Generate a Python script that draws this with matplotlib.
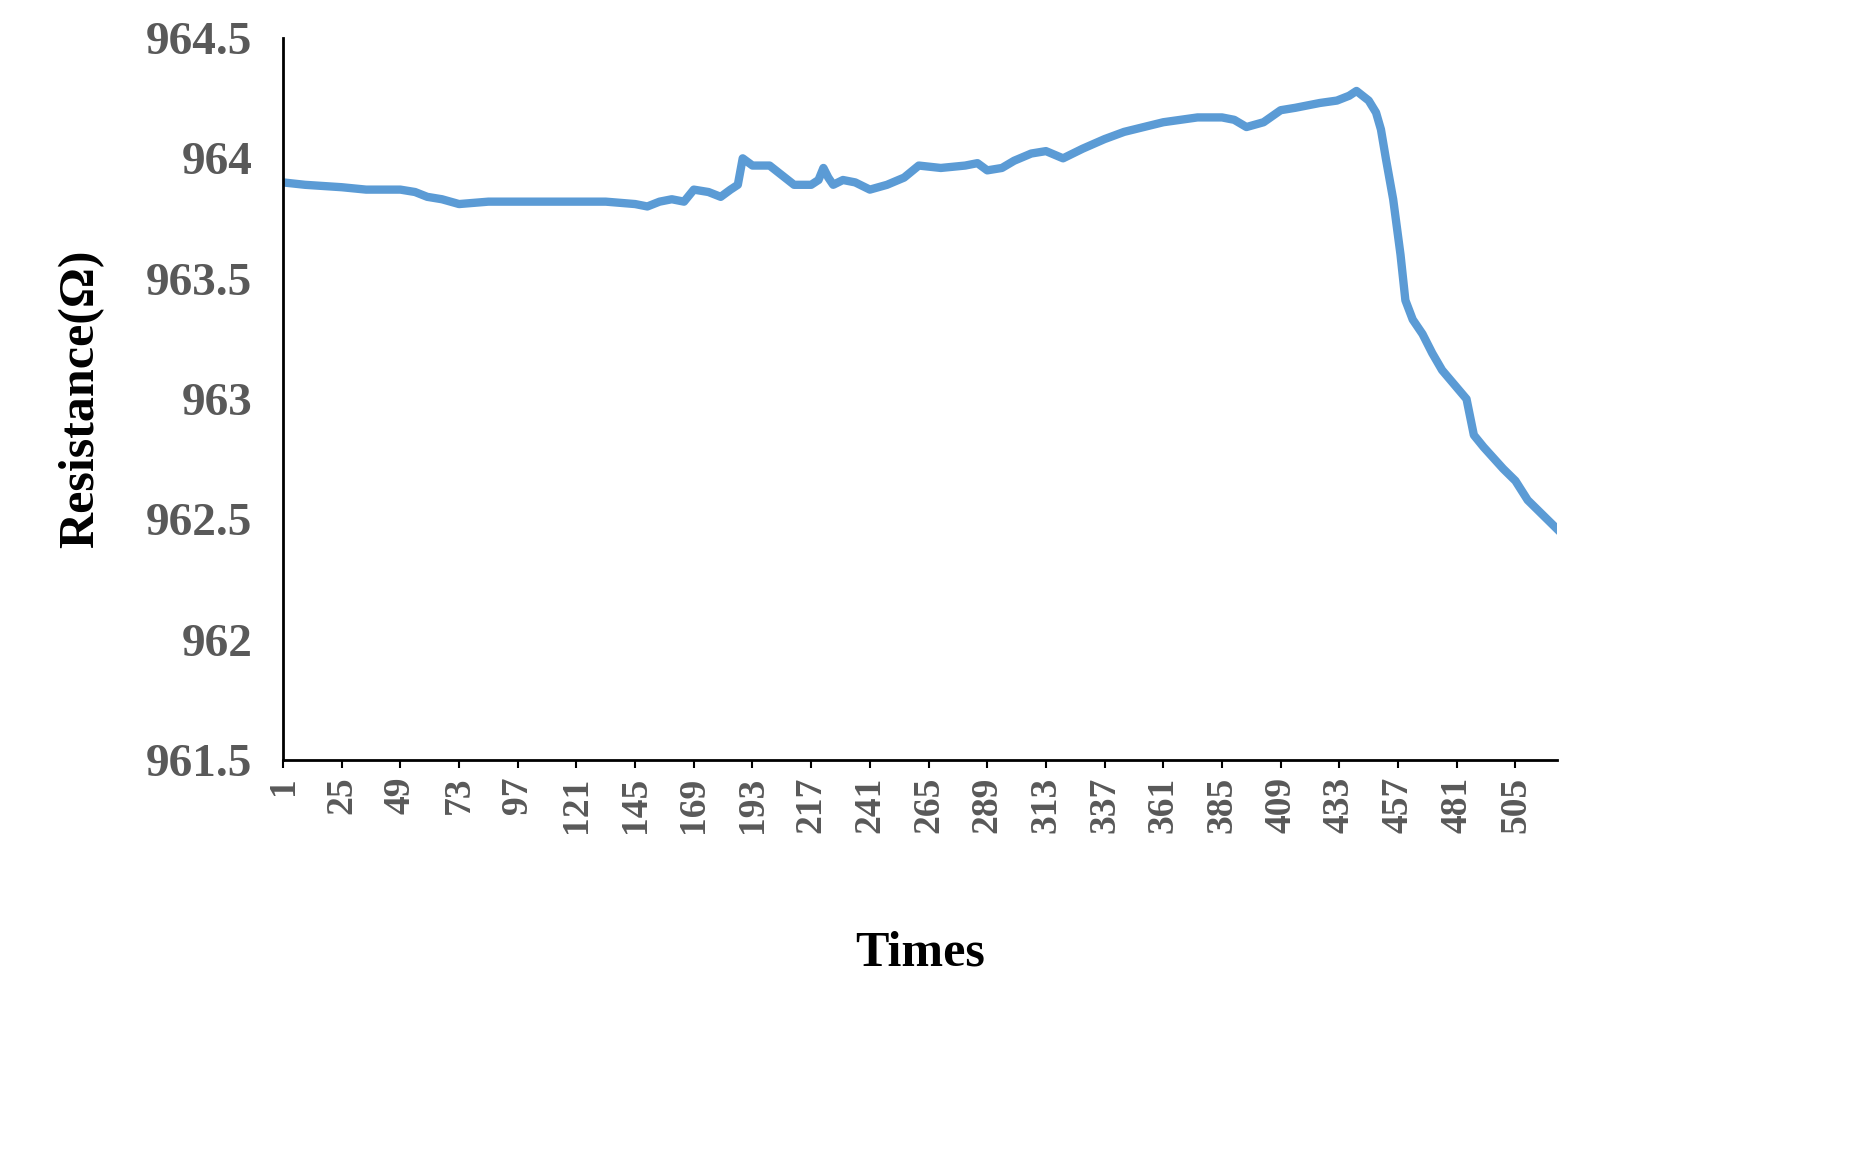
import matplotlib.pyplot as plt
import numpy as np

# values (sample index, resistance in ohm)
times = [1, 10, 25, 35, 49, 55, 60, 66, 73, 85, 97, 110, 121, 133, 145, 150, 155, 160,
         165, 169, 175, 180, 184, 187, 189, 193, 200, 205, 210, 217, 220, 222, 224, 226,
         230, 235, 241, 248, 255, 261, 270, 280, 285, 289, 295, 300, 307, 313, 320, 328,
         337, 345, 353, 361, 368, 375, 385, 390, 395, 402, 409, 415, 425, 432, 437, 440,
         445, 448, 450, 452, 455, 458, 460, 463, 467, 471, 475, 480, 485, 488, 492, 500,
         505, 510, 516, 522]
resist = [963.90, 963.89, 963.88, 963.87, 963.87, 963.86, 963.84, 963.83, 963.81, 963.82,
          963.82, 963.82, 963.82, 963.82, 963.81, 963.80, 963.82, 963.83, 963.82, 963.87,
          963.86, 963.84, 963.87, 963.89, 964.00, 963.97, 963.97, 963.93, 963.89, 963.89,
          963.91, 963.96, 963.92, 963.89, 963.91, 963.90, 963.87, 963.89, 963.92, 963.97,
          963.96, 963.97, 963.98, 963.95, 963.96, 963.99, 964.02, 964.03, 964.00, 964.04,
          964.08, 964.11, 964.13, 964.15, 964.16, 964.17, 964.17, 964.16, 964.13, 964.15,
          964.20, 964.21, 964.23, 964.24, 964.26, 964.28, 964.24, 964.19, 964.12, 964.00,
          963.83, 963.60, 963.41, 963.33, 963.27, 963.19, 963.12, 963.06, 963.00, 962.85,
          962.80, 962.71, 962.66, 962.58, 962.52, 962.46]
xticks = list(range(1, 506, 24))
yticks = [961.5, 962, 962.5, 963, 963.5, 964, 964.5]

plt.rcParams['font.family'] = ['Liberation Serif', 'DejaVu Serif']
fig = plt.figure(figsize=(18.62, 11.6), dpi=100)
ax = fig.add_axes([283 / 1862, 1 - 760 / 1160, (1557 - 283) / 1862, (760 - 38) / 1160])

ax.plot(times, resist, color='#5B9BD5', lw=6, solid_joinstyle='round')
ax.set_xlim(1, 522)
ax.set_ylim(961.5, 964.5)
ax.set_xticks(xticks)
ax.set_xticklabels([str(t) for t in xticks], rotation=90, fontsize=27,
                   fontweight='bold', color='#595959')
ax.set_yticks(yticks)
ax.set_yticklabels(['961.5', '962', '962.5', '963', '963.5', '964', '964.5'],
                   fontsize=34, fontweight='bold', color='#595959')
ax.tick_params(axis='y', length=0, pad=22)
ax.tick_params(axis='x', length=6, width=1.5, pad=6)
for s in ['top', 'right']:
    ax.spines[s].set_visible(False)
for s in ['left', 'bottom']:
    ax.spines[s].set_linewidth(2)
ax.set_ylabel('Resistance(Ω)', fontsize=36, fontweight='bold', labelpad=30)
ax.set_xlabel('Times', fontsize=36, fontweight='bold', labelpad=70)

fig.savefig('out.png', dpi=100)
